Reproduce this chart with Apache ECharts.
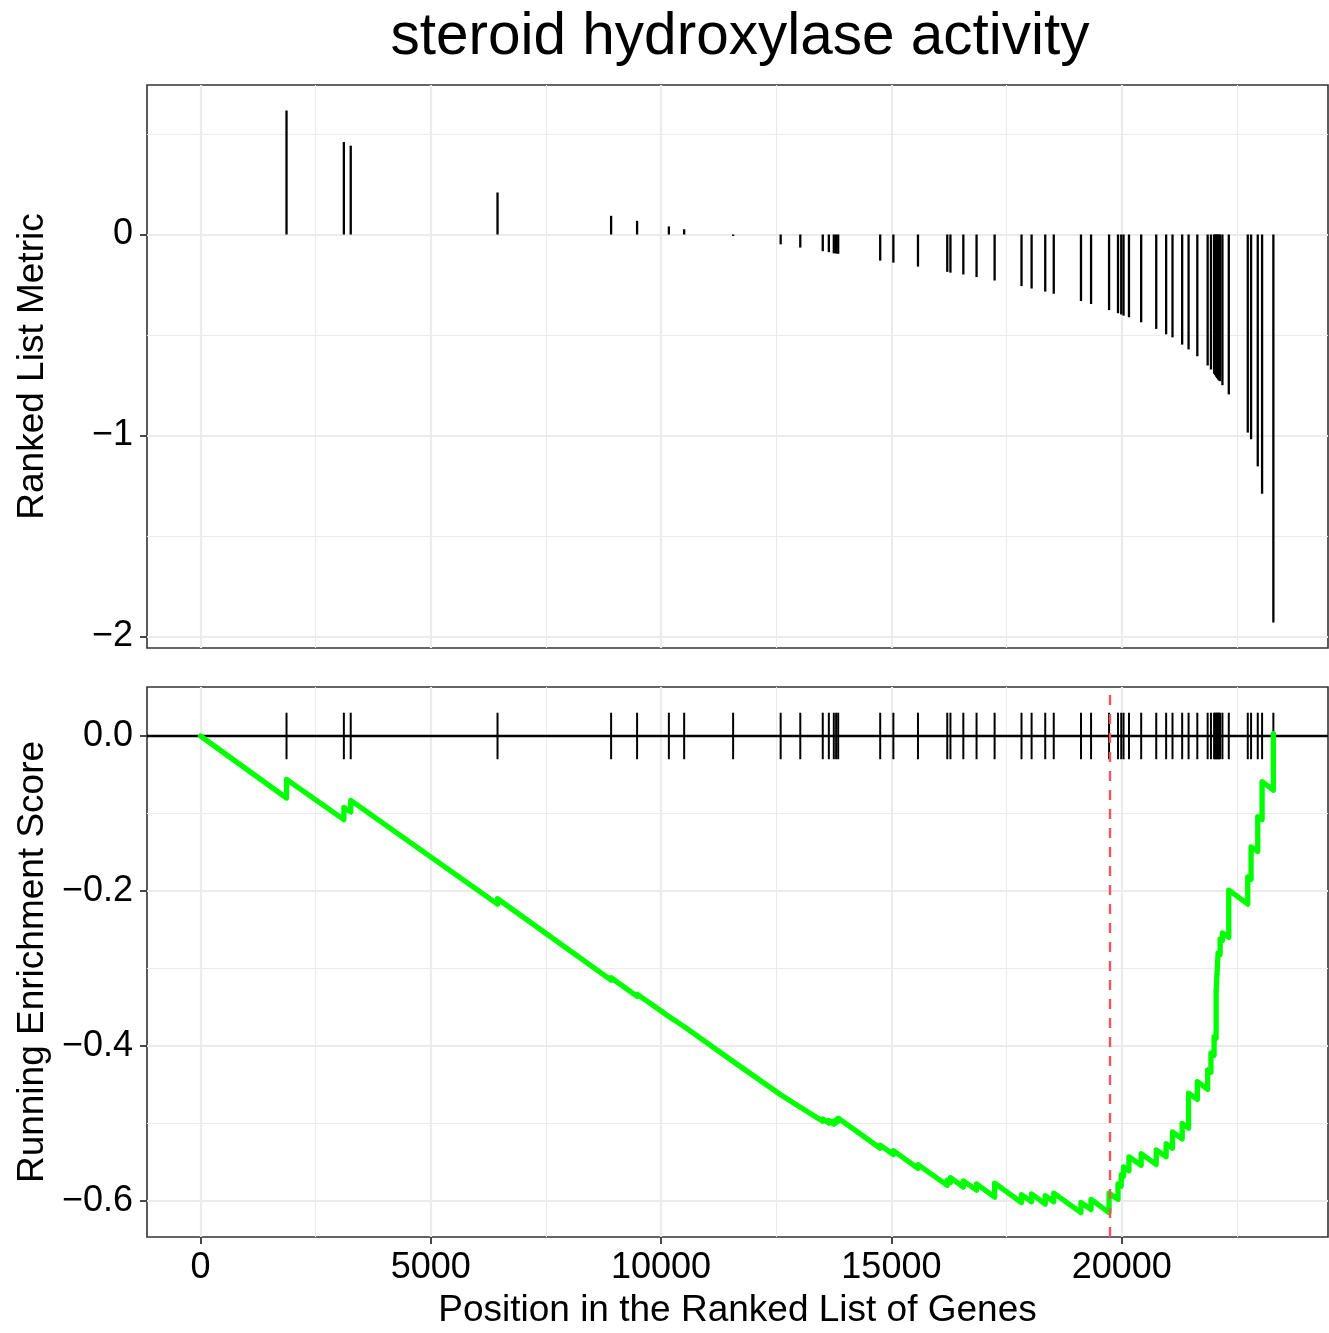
<!DOCTYPE html>
<html><head><meta charset="utf-8">
<script src="https://cdn.jsdelivr.net/npm/echarts@6/dist/echarts.min.js"></script>
<style>html,body{margin:0;padding:0;background:#fff}#c{width:1329px;height:1333px}</style>
</head><body><div id="c"></div>
<script>
// ---- data ----
const chartTitle = 'steroid hydroxylase activity';
const genePos = [1868,3113,3262,6449,8915,9479,10169,10501,11564,12596,13022,13510,13642,13750,13800,13845,
  14757,15043,15577,16213,16282,16562,16849,17241,17825,18044,18340,18525,19116,19335,19726,19920,19990,
  20040,20158,20423,20750,20965,21103,21313,21452,21642,21866,21938,22006,22030,22050,22072,22093,22115,
  22137,22187,22325,22737,22809,22954,23048,23293];
const geneMetric = [0.617,0.460,0.442,0.209,0.093,0.068,0.040,0.026,-0.007,-0.049,-0.065,-0.083,-0.088,-0.094,-0.095,-0.096,
  -0.130,-0.140,-0.160,-0.186,-0.190,-0.199,-0.212,-0.229,-0.257,-0.269,-0.284,-0.295,-0.331,-0.346,-0.376,-0.392,-0.398,
  -0.404,-0.412,-0.437,-0.470,-0.497,-0.512,-0.548,-0.572,-0.606,-0.652,-0.672,-0.693,-0.700,-0.708,-0.715,-0.722,-0.727,
  -0.730,-0.750,-0.796,-0.986,-1.019,-1.154,-1.290,-1.931];
// running enrichment score: value just before and just after each hit
const esPos = [1868,3113,3262,6449,8915,9479,10169,10501,11564,12596,13022,13510,13642,13750,13800,13845,14757,15043,
  15577,16213,16282,16562,16849,17241,17825,18044,18340,18525,19116,19335,19726,19920,19990,20040,20158,20423,20750,
  20965,21103,21313,21452,21642,21866,21938,22006,22050,22093,22137,22187,22325,22737,22809,22954,23048,23293];
const esBefore = [-0.080,-0.108,-0.098,-0.217,-0.315,-0.336,-0.362,-0.375,-0.420,-0.463,-0.479,-0.497,-0.4995,-0.501,-0.499,-0.497,-0.532,-0.540,
  -0.558,-0.580,-0.576,-0.582,-0.586,-0.595,-0.602,-0.601,-0.604,-0.601,-0.615,-0.611,-0.615,-0.598,-0.581,-0.568,-0.561,-0.554,-0.553,
  -0.543,-0.532,-0.520,-0.506,-0.469,-0.456,-0.434,-0.412,-0.390,-0.332,-0.282,-0.264,-0.260,-0.217,-0.185,-0.149,-0.108,-0.070];
const esAfter = [-0.056,-0.092,-0.083,-0.210,-0.312,-0.333,-0.361,-0.374,-0.420,-0.461,-0.477,-0.494,-0.496,-0.497,-0.495,-0.493,-0.528,-0.535,
  -0.553,-0.573,-0.570,-0.574,-0.578,-0.577,-0.592,-0.591,-0.593,-0.590,-0.602,-0.598,-0.590,-0.578,-0.566,-0.556,-0.543,-0.539,-0.534,
  -0.526,-0.511,-0.500,-0.461,-0.446,-0.431,-0.409,-0.388,-0.330,-0.280,-0.262,-0.254,-0.199,-0.182,-0.143,-0.104,-0.059,0.003];
const leadingEdgePos = 19735;
const xTicks = [0,5000,10000,15000,20000];
const xMinor = [2500,7500,12500,17500,22500];
const topTicks = [0,-1,-2];
const topMinor = [0.5,-0.5,-1.5];
const botTicks = [0,-0.2,-0.4,-0.6];
const botMinor = [-0.1,-0.3,-0.5];
const xRange = [-1161, 24479];
const topRange = [-2.058, 0.744];
const botRange = [-0.6465, 0.0632];

// ---- build ----
const FONT = 'Liberation Sans, Arial, Helvetica, sans-serif';
const fmtMinus = v => String(v).replace('-', '\u2212');
const barData = genePos.map((p, i) => [p, geneMetric[i]]);
const hitData = genePos.map(p => [p, 0]);
const esData = [[0, 0]];
esPos.forEach((p, i) => { esData.push([p, esBefore[i]]); esData.push([p, esAfter[i]]); });

const gridCol = '#EBEBEB';
function gridLines(xMaj, xMin, yMaj, yMin) {
  const d = [];
  xMin.forEach(v => d.push({xAxis: v, lineStyle: {width: 1.1}}));
  yMin.forEach(v => d.push({yAxis: v, lineStyle: {width: 1.1}}));
  xMaj.forEach(v => d.push({xAxis: v, lineStyle: {width: 2.2}}));
  yMaj.forEach(v => d.push({yAxis: v, lineStyle: {width: 2.2}}));
  return d;
}
const axisLabelStyle = {color: '#000', fontFamily: FONT, fontSize: 36};
const tickStyle = {show: true, length: 7, inside: false, lineStyle: {color: '#333', width: 1.8}};
const noLine = {show: false, onZero: false};

const option = {
  animation: false,
  backgroundColor: '#fff',
  title: {
    text: chartTitle, left: 735, top: 3, textAlign: 'center',
    textStyle: {fontFamily: FONT, fontSize: 58.5, fontWeight: 'normal', color: '#000'}
  },
  grid: [
    {left: 147, top: 85, width: 1181, height: 563, show: true, borderColor: '#333', borderWidth: 1.6, containLabel: false},
    {left: 147, top: 687, width: 1181, height: 550, show: true, borderColor: '#333', borderWidth: 1.6, containLabel: false}
  ],
  xAxis: [
    {type: 'value', gridIndex: 0, min: xRange[0], max: xRange[1], position: 'bottom',
     axisLine: noLine, axisTick: {show: false}, axisLabel: {show: false}, splitLine: {show: false}},
    {type: 'value', gridIndex: 1, min: xRange[0], max: xRange[1], position: 'bottom',
     axisLine: noLine, splitLine: {show: false},
     axisTick: Object.assign({customValues: xTicks}, tickStyle),
     axisLabel: Object.assign({customValues: xTicks, margin: 13, formatter: v => String(v)}, axisLabelStyle),
     name: 'Position in the Ranked List of Genes', nameLocation: 'middle', nameGap: 55,
     nameTextStyle: {fontFamily: FONT, fontSize: 37, color: '#000'}}
  ],
  yAxis: [
    {type: 'value', gridIndex: 0, min: topRange[0], max: topRange[1], position: 'left',
     axisLine: noLine, splitLine: {show: false},
     axisTick: Object.assign({customValues: topTicks}, tickStyle),
     axisLabel: Object.assign({customValues: topTicks, margin: 14, formatter: v => fmtMinus(v)}, axisLabelStyle),
     name: 'Ranked List Metric', nameLocation: 'middle', nameGap: 96, nameRotate: 90,
     nameTextStyle: {fontFamily: FONT, fontSize: 37, color: '#000'}},
    {type: 'value', gridIndex: 1, min: botRange[0], max: botRange[1], position: 'left',
     axisLine: noLine, splitLine: {show: false},
     axisTick: Object.assign({customValues: botTicks}, tickStyle),
     axisLabel: Object.assign({customValues: botTicks, margin: 14, formatter: v => fmtMinus(v.toFixed(1))}, axisLabelStyle),
     name: 'Running Enrichment Score', nameLocation: 'middle', nameGap: 96, nameRotate: 90,
     nameTextStyle: {fontFamily: FONT, fontSize: 37, color: '#000'}}
  ],
  series: [
    {type: 'line', xAxisIndex: 0, yAxisIndex: 0, data: [], z: 0, silent: true,
     markLine: {z: 0, silent: true, symbol: 'none', label: {show: false}, animation: false,
       lineStyle: {color: gridCol, type: 'solid'}, data: gridLines(xTicks, xMinor, topTicks, topMinor)}},
    {type: 'line', xAxisIndex: 1, yAxisIndex: 1, data: [], z: 0, silent: true,
     markLine: {z: 0, silent: true, symbol: 'none', label: {show: false}, animation: false,
       lineStyle: {color: gridCol, type: 'solid'}, data: gridLines(xTicks, xMinor, botTicks, botMinor)}},
    {type: 'custom', xAxisIndex: 0, yAxisIndex: 0, data: barData, z: 3, silent: true,
     renderItem: (params, api) => {
       const a = api.coord([api.value(0), 0]), b = api.coord([api.value(0), api.value(1)]);
       return {type: 'line', shape: {x1: a[0], y1: a[1], x2: b[0], y2: b[1]}, style: {stroke: '#000', lineWidth: 2.3}};
     }},
    {type: 'line', xAxisIndex: 1, yAxisIndex: 1, data: [], z: 2, silent: true,
     markLine: {z: 2, silent: true, symbol: 'none', label: {show: false}, animation: false,
       data: [{yAxis: 0, lineStyle: {color: '#000', width: 2.4, type: 'solid'}}]}},
    {type: 'custom', xAxisIndex: 1, yAxisIndex: 1, data: hitData, z: 3, silent: true,
     renderItem: (params, api) => {
       const a = api.coord([api.value(0), -0.03]), b = api.coord([api.value(0), 0.03]);
       return {type: 'line', shape: {x1: a[0], y1: a[1], x2: b[0], y2: b[1]}, style: {stroke: '#000', lineWidth: 2}};
     }},
    {type: 'line', xAxisIndex: 1, yAxisIndex: 1, data: esData, z: 4, silent: true,
     showSymbol: false, symbol: 'none', lineStyle: {color: '#00FF00', width: 5.3, join: 'round', cap: 'round'}},
    {type: 'line', xAxisIndex: 1, yAxisIndex: 1, data: [], z: 6, silent: true,
     markLine: {z: 6, silent: true, symbol: 'none', label: {show: false}, animation: false,
       data: [{xAxis: leadingEdgePos, lineStyle: {color: '#F2555E', width: 2.4, type: [10, 9]}}]}}
  ]
};
const chart = echarts.init(document.getElementById('c'), null, {renderer: 'canvas'});
chart.setOption(option);
</script></body></html>
